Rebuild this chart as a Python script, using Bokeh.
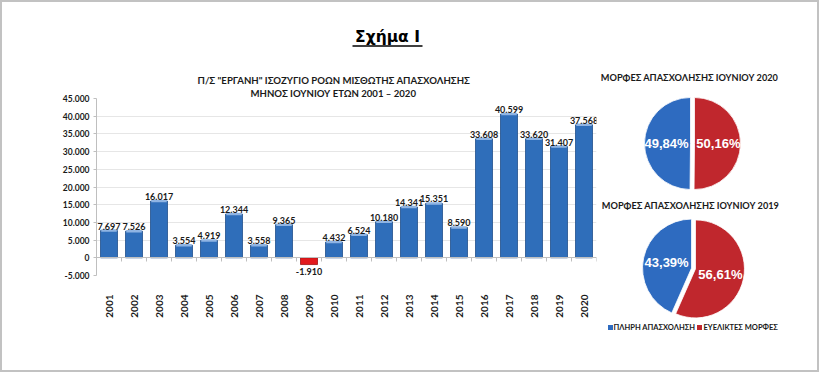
import math
from bokeh.plotting import figure
from bokeh.models import (Range1d, FixedTicker, LinearAxis, Title, ColumnDataSource)
from bokeh.layouts import column, row
from bokeh.core.properties import value
from bokeh.embed import file_html
from bokeh.resources import INLINE

# ---------------- data ----------------
years = list(range(2001, 2021))
balance = [7697, 7526, 16017, 3554, 4919, 12344, 3558, 9365, -1910, 4432,
           6524, 10180, 14341, 15351, 8590, 33608, 40599, 33620, 31407, 37568]
y_ticks = [-5000, 0, 5000, 10000, 15000, 20000, 25000, 30000, 35000, 40000, 45000]
y_tick_labels = ["-5.000", "0", "5.000", "10.000", "15.000", "20.000",
                 "25.000", "30.000", "35.000", "40.000", "45.000"]
legend_labels = ["ΠΛΗΡΗ ΑΠΑΣΧΟΛΗΣΗ", "ΕΥΕΛΙΚΤΕΣ ΜΟΡΦΕΣ"]
shares_2020 = [49.84, 50.16]
shares_2019 = [43.39, 56.61]

main_title = "Σχήμα Ι"
chart_title_1 = 'Π/Σ "ΕΡΓΑΝΗ" ΙΣΟΖΥΓΙΟ ΡΟΩΝ ΜΙΣΘΩΤΗΣ ΑΠΑΣΧΟΛΗΣΗΣ'
chart_title_2 = "ΜΗΝΟΣ ΙΟΥΝΙΟΥ ΕΤΩΝ 2001 – 2020"
pie_title_2020 = "ΜΟΡΦΕΣ ΑΠΑΣΧΟΛΗΣΗΣ ΙΟΥΝΙΟΥ 2020"
pie_title_2019 = "ΜΟΡΦΕΣ ΑΠΑΣΧΟΛΗΣΗΣ ΙΟΥΝΙΟΥ 2019"

# ---------------- style ----------------
FONT = "Lato"
BASE = "Liberation Sans"
TXT = "#1a1a1a"
BLUE = "#2f6eba"
BLUE_EDGE = "#1f4f8c"
BLUE_HI = "#8fb4e3"
RED_BAR = "#e2191c"
PIE_BLUE = "#2e6bc0"
PIE_RED = "#c0272d"


def fmt_thousands(v):
    s = f"{abs(v):,}".replace(",", ".")
    return ("-" if v < 0 else "") + s


def blank(f):
    f.axis.visible = False
    f.grid.visible = False
    f.outline_line_color = None


# ---------------- title strip ----------------
tf = figure(width=815, height=48, x_range=Range1d(0, 815), y_range=Range1d(0, 48),
            toolbar_location=None, output_backend="svg", min_border=0)
blank(tf)
tf.text(x=[385], y=[4.3], text=[main_title], text_font=value("DejaVu Sans"),
        text_font_style="bold", text_font_size="15.5px", text_align="center",
        text_baseline="bottom", text_color="#000000")
tf.segment(x0=[350], y0=[4.5], x1=[420], y1=[4.5], line_color="#000000", line_width=1.5)

# ---------------- bar chart ----------------
p = figure(width=596, height=320, x_range=Range1d(2000.5, 2020.5),
           y_range=Range1d(-5000, 45000), toolbar_location=None,
           output_backend="svg", min_border_left=94, min_border_right=2,
           min_border_top=48, min_border_bottom=95)
p.outline_line_color = None
p.xgrid.visible = False
p.ygrid.ticker = FixedTicker(ticks=y_ticks)
p.ygrid.grid_line_color = "#e6e6e6"

colors = [BLUE if v >= 0 else RED_BAR for v in balance]
edges = [BLUE_EDGE if v >= 0 else "#a01010" for v in balance]
src = ColumnDataSource(dict(x=years, top=balance, color=colors, edge=edges))
p.vbar(x="x", top="top", bottom=0, width=0.68, fill_color="color",
       line_color="edge", line_width=0.8, source=src)
# light highlight along the top of positive bars
pos_years = [y for y, v in zip(years, balance) if v > 0]
pos_vals = [v for v in balance if v > 0]
p.segment(x0=[y - 0.31 for y in pos_years], x1=[y + 0.31 for y in pos_years],
          y0=pos_vals, y1=pos_vals, line_color=BLUE_HI, line_width=2.5)

# value labels
neg_years = [y for y, v in zip(years, balance) if v < 0]
neg_vals = [v for v in balance if v < 0]
p.text(x=pos_years, y=pos_vals, text=[fmt_thousands(v) for v in pos_vals],
       text_font=value(FONT), text_font_style="bold", text_font_size="9px",
       text_align="center", text_baseline="bottom", y_offset=-1, text_color=TXT)
p.text(x=neg_years, y=neg_vals, text=[fmt_thousands(v) for v in neg_vals],
       text_font=value(FONT), text_font_style="bold", text_font_size="9px",
       text_align="center", text_baseline="top", y_offset=3, text_color=TXT)

# y axis
ya = p.yaxis[0]
ya.ticker = FixedTicker(ticks=y_ticks)
ya.major_label_overrides = {t: l for t, l in zip(y_ticks, y_tick_labels)}
ya.axis_line_color = "#bfbfbf"
ya.major_tick_line_color = "#bfbfbf"
ya.major_tick_in = 0
ya.major_tick_out = 3
ya.minor_tick_line_color = None
ya.major_label_text_font = FONT
ya.major_label_text_font_style = "bold"
ya.major_label_text_font_size = "8.5px"
ya.major_label_text_color = TXT
ya.major_label_standoff = 4

# x axis labels (years)
xa = p.xaxis[0]
xa.ticker = FixedTicker(ticks=years)
xa.major_label_overrides = {y: str(y) for y in years}
xa.axis_line_color = None
xa.major_tick_line_color = None
xa.minor_tick_line_color = None
xa.major_label_orientation = math.pi / 2
xa.major_label_text_font = FONT
xa.major_label_text_font_style = "bold"
xa.major_label_text_font_size = "10px"
xa.major_label_text_color = TXT
xa.major_label_standoff = 13

# axis line at zero with separators between categories
sep_ticks = [y + 0.5 for y in [2000] + years]
za = LinearAxis(fixed_location=0, ticker=FixedTicker(ticks=sep_ticks))
za.axis_line_color = "#bfbfbf"
za.major_tick_line_color = "#bfbfbf"
za.major_tick_in = 0
za.major_tick_out = 4
za.minor_tick_line_color = None
za.major_label_overrides = {t: "" for t in sep_ticks}
p.add_layout(za, "below")

# chart title (two lines), left aligned with offsets from the frame's left edge
for txt, off, so in [(chart_title_2, 154, 0), (chart_title_1, 101, 0)]:
    p.add_layout(Title(text=txt, align="left", offset=off, standoff=so,
                       text_font=FONT, text_font_style="bold",
                       text_font_size="9.6px", text_color=TXT), "above")


# ---------------- pies ----------------
def pie_fig(h, shares, cx, cy, r, title, tx, ty):
    f = figure(width=219, height=h, x_range=Range1d(0, 219), y_range=Range1d(0, h),
               toolbar_location=None, output_backend="svg", min_border=0)
    blank(f)
    f.text(x=[tx], y=[ty], text=[title], text_font=value(FONT),
           text_font_style="bold", text_font_size="9.2px", text_align="center",
           text_baseline="middle", text_color=TXT)
    cols = [PIE_BLUE, PIE_RED]
    start = math.pi / 2
    explode = 2.0
    for i in [1, 0]:
        frac = shares[i] / 100.0
        end = start - 2 * math.pi * frac
        mid = (start + end) / 2
        ox, oy = explode * math.cos(mid), explode * math.sin(mid)
        f.wedge(x=[cx + ox], y=[cy + oy], radius=r, start_angle=end, end_angle=start,
                fill_color=cols[i], line_color="#ffffff", line_width=0.8)
        lx = cx + ox + 0.52 * r * math.cos(mid)
        ly = cy + oy + 0.52 * r * math.sin(mid)
        f.text(x=[lx], y=[ly], text=[f"{shares[i]:.2f}".replace(".", ",") + "%"],
               text_font=value(BASE), text_font_style="bold", text_font_size="13px",
               text_align="center", text_baseline="middle", text_color="#ffffff")
        start = end
    return f


pie1 = pie_fig(143, shares_2020, 94, 50, 46, pie_title_2020, 91, 116)
pie2 = pie_fig(177, shares_2019, 95, 102, 49, pie_title_2019, 92, 165)

# legend under the second pie
pie2.scatter(x=[12, 101], y=[43, 43], marker="square", size=5,
             fill_color=[PIE_BLUE, PIE_RED], line_color=None)
pie2.text(x=[15, 105], y=[43, 43], text=legend_labels, text_font=value(FONT),
          text_font_style="bold", text_font_size="7.5px", text_align="left",
          text_baseline="middle", text_color=TXT)

layout = column(tf, row(p, column(pie1, pie2, spacing=0), spacing=0), spacing=0,
                styles={"border": "2px solid #c2c2c2"})
open("out.html", "w").write(file_html(layout, INLINE))
